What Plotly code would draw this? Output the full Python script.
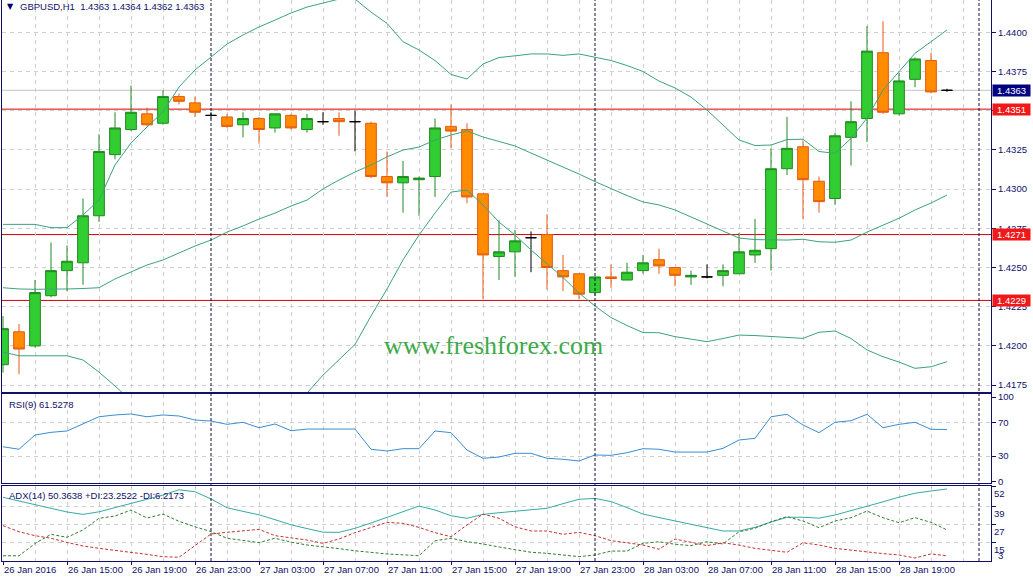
import plotly.graph_objects as go
import pandas as pd

# ---------------- data ----------------
TIMES = pd.date_range("2016-01-26 11:00", periods=60, freq="h")

OPEN = [1.4188, 1.4209, 1.4200, 1.4232, 1.4248, 1.4253, 1.4283, 1.4322, 1.4338, 1.4348,
        1.4342, 1.4359, 1.4355, 1.4347, 1.4346, 1.4341, 1.4345, 1.4339, 1.4347, 1.4338,
        1.4343, 1.4345, 1.4343, 1.4342, 1.4308, 1.4304, 1.4306, 1.4308, 1.4340, 1.4338,
        1.4297, 1.4257, 1.4260, 1.4269, 1.4271, 1.4248, 1.4246, 1.4234, 1.4244, 1.4242,
        1.4248, 1.4255, 1.4250, 1.4244, 1.4244, 1.4245, 1.4246, 1.4258, 1.4262, 1.4313,
        1.4327, 1.4305, 1.4294, 1.4333, 1.4345, 1.4387, 1.4348, 1.4370, 1.4382, 1.4363]
HIGH = [1.4219, 1.4214, 1.4242, 1.4266, 1.4264, 1.4294, 1.4335, 1.4349, 1.4366, 1.4352,
        1.4363, 1.4361, 1.4359, 1.4349, 1.4348, 1.4349, 1.4346, 1.4348, 1.4348, 1.4348,
        1.4349, 1.4349, 1.4350, 1.4343, 1.4324, 1.4318, 1.4308, 1.4345, 1.4354, 1.4342,
        1.4297, 1.4280, 1.4274, 1.4273, 1.4284, 1.4258, 1.4246, 1.4244, 1.4252, 1.4253,
        1.4258, 1.4262, 1.4250, 1.4248, 1.4252, 1.4252, 1.4272, 1.4281, 1.4326, 1.4346,
        1.4331, 1.4308, 1.4336, 1.4356, 1.4404, 1.4407, 1.4374, 1.4384, 1.4387, 1.4364]
LOW = [1.4183, 1.4182, 1.4199, 1.4231, 1.4235, 1.4239, 1.4279, 1.4319, 1.4337, 1.4340,
       1.4341, 1.4354, 1.4346, 1.4345, 1.4339, 1.4333, 1.4329, 1.4336, 1.4338, 1.4336,
       1.4341, 1.4334, 1.4324, 1.4307, 1.4295, 1.4285, 1.4283, 1.4295, 1.4326, 1.4291,
       1.4230, 1.4242, 1.4244, 1.4247, 1.4236, 1.4235, 1.4230, 1.4232, 1.4237, 1.4242,
       1.4246, 1.4246, 1.4238, 1.4239, 1.4243, 1.4238, 1.4246, 1.4253, 1.4248, 1.4309,
       1.4281, 1.4285, 1.4290, 1.4315, 1.4330, 1.4348, 1.4347, 1.4365, 1.4361, 1.4362]
CLOSE = [1.4211, 1.4198, 1.4234, 1.4248, 1.4254, 1.4283, 1.4324, 1.4339, 1.4349, 1.4341,
         1.4359, 1.4356, 1.4349, 1.4347, 1.4340, 1.4345, 1.4338, 1.4348, 1.4339, 1.4345,
         1.4343, 1.4343, 1.4343, 1.4308, 1.4304, 1.4308, 1.4307, 1.4339, 1.4337, 1.4295,
         1.4258, 1.4260, 1.4267, 1.4269, 1.4250, 1.4244, 1.4233, 1.4244, 1.4243, 1.4247,
         1.4253, 1.4251, 1.4245, 1.4245, 1.4244, 1.4248, 1.4260, 1.4261, 1.4313, 1.4326,
         1.4306, 1.4292, 1.4334, 1.4343, 1.4388, 1.4349, 1.4369, 1.4383, 1.4362, 1.4363]

BB_UPPER = [1.42775, 1.42775, 1.42775, 1.42754, 1.42754, 1.42835, 1.42930, 1.43154, 1.43294, 1.43396,
            1.43492, 1.43651, 1.43760, 1.43842, 1.43925, 1.43983, 1.44034, 1.44078, 1.44123, 1.44161,
            1.44187, 1.44212, 1.44212, 1.44129, 1.44057, 1.43940, 1.43887, 1.43820, 1.43731, 1.43702,
            1.43798, 1.43839, 1.43850, 1.43862, 1.43862, 1.43853, 1.43862, 1.43841, 1.43820, 1.43788,
            1.43750, 1.43689, 1.43645, 1.43587, 1.43504, 1.43409, 1.43313, 1.43278, 1.43281, 1.43316,
            1.43318, 1.43240, 1.43228, 1.43323, 1.43453, 1.43632, 1.43747, 1.43866, 1.43940, 1.44015]
BB_MID = [1.42371, 1.42363, 1.42361, 1.42361, 1.42363, 1.42366, 1.42371, 1.42427, 1.42473, 1.42516,
          1.42548, 1.42592, 1.42637, 1.42675, 1.42726, 1.42765, 1.42809, 1.42847, 1.42892, 1.42930,
          1.43001, 1.43058, 1.43109, 1.43154, 1.43205, 1.43249, 1.43268, 1.43313, 1.43345, 1.43371,
          1.43332, 1.43304, 1.43275, 1.43230, 1.43186, 1.43143, 1.43096, 1.43048, 1.43001, 1.42959,
          1.42918, 1.42899, 1.42867, 1.42822, 1.42782, 1.42733, 1.42688, 1.42678, 1.42675, 1.42675,
          1.42680, 1.42664, 1.42661, 1.42675, 1.42726, 1.42771, 1.42814, 1.42867, 1.42911, 1.42962]
BB_LOWER = [1.41961, 1.41937, 1.41937, 1.41937, 1.41937, 1.41910, 1.41833, 1.41744, 1.41652, 1.41636,
            1.41604, 1.41534, 1.41514, 1.41508, 1.41527, 1.41546, 1.41585, 1.41617, 1.41661, 1.41699,
            1.41814, 1.41910, 1.42009, 1.42191, 1.42363, 1.42548, 1.42707, 1.42847, 1.42981, 1.42994,
            1.42899, 1.42790, 1.42707, 1.42612, 1.42522, 1.42436, 1.42337, 1.42254, 1.42181, 1.42130,
            1.42085, 1.42084, 1.42059, 1.42044, 1.42027, 1.42047, 1.42069, 1.42066, 1.42060, 1.42053,
            1.42048, 1.42087, 1.42095, 1.42047, 1.41974, 1.41931, 1.41897, 1.41857, 1.41867, 1.41899]

RSI = [41.0, 38.0, 54.9, 58.1, 59.7, 68.6, 76.6, 78.7, 79.9, 76.6,
       78.7, 77.5, 72.7, 71.5, 67.6, 70.0, 63.6, 68.0, 60.0, 62.0,
       62.0, 62.0, 62.0, 38.0, 35.9, 38.7, 38.7, 59.7, 57.7, 37.1,
       27.3, 28.8, 33.2, 33.2, 27.3, 26.1, 24.1, 31.2, 30.8, 33.9,
       38.7, 38.0, 34.7, 34.7, 34.7, 39.1, 49.0, 51.0, 76.6, 79.5,
       66.8, 57.7, 70.0, 71.9, 79.5, 63.6, 67.6, 70.0, 61.7, 61.5]

ADX = [44.9, 42.3, 40.1, 37.6, 35.2, 33.6, 35.3, 38.0, 40.8, 43.6,
       46.4, 49.9, 48.6, 43.8, 38.0, 35.6, 33.3, 30.1, 26.7, 24.2,
       21.8, 21.7, 24.4, 27.9, 31.5, 35.4, 39.1, 36.5, 32.7, 31.0,
       33.6, 34.7, 35.8, 36.6, 37.6, 40.7, 43.6, 44.2, 42.1, 38.1,
       33.8, 31.5, 29.2, 27.1, 25.0, 22.6, 22.6, 25.0, 28.5, 31.7,
       31.7, 31.1, 33.2, 36.0, 38.7, 41.9, 45.0, 47.6, 49.1, 50.4]
PLUS_DI = [6.2, 6.2, 14.3, 20.4, 18.4, 23.3, 31.0, 32.5, 36.5, 31.2,
           33.8, 29.0, 25.4, 22.2, 17.8, 16.6, 14.9, 17.8, 15.2, 13.3,
           12.3, 10.9, 9.5, 8.4, 7.4, 6.8, 6.2, 16.1, 17.8, 15.5,
           14.0, 12.0, 10.0, 8.5, 7.8, 6.7, 5.6, 6.7, 9.3, 9.3,
           14.4, 15.5, 13.8, 12.9, 15.5, 14.0, 22.1, 24.4, 28.7, 32.1,
           29.2, 24.8, 29.2, 31.4, 35.8, 31.4, 28.1, 31.4, 28.3, 23.3]
MINUS_DI = [26.1, 22.1, 19.5, 17.8, 15.0, 12.7, 11.1, 9.9, 8.5, 7.1,
            5.6, 5.2, 12.9, 20.6, 21.7, 22.6, 23.7, 19.5, 17.8, 16.6,
            14.4, 17.3, 21.5, 25.0, 28.3, 27.7, 25.0, 21.5, 18.8, 26.6,
            33.8, 31.0, 25.4, 22.6, 22.6, 20.4, 21.7, 19.5, 16.2, 14.8,
            13.3, 10.5, 17.3, 15.1, 12.9, 14.8, 13.3, 11.1, 10.0, 8.5,
            14.8, 13.3, 11.1, 9.8, 8.5, 7.6, 6.7, 4.7, 7.4, 6.2]

H_LINES = [1.4351, 1.4271, 1.4229]
BID = 1.4363
RSI_LEVELS = [70, 30]
ADX_LEVELS = [39, 27, 15]
RSI_TICKS = [100, 70, 30, 0]
ADX_TICKS = [52, 39, 27, 15]

TICK_TIMES = ["2016-01-26 11:00", "2016-01-26 15:00", "2016-01-26 19:00", "2016-01-26 23:00",
              "2016-01-27 03:00", "2016-01-27 07:00", "2016-01-27 11:00", "2016-01-27 15:00",
              "2016-01-27 19:00", "2016-01-27 23:00", "2016-01-28 03:00", "2016-01-28 07:00",
              "2016-01-28 11:00", "2016-01-28 15:00", "2016-01-28 19:00"]
TICK_TEXT = ["26 Jan 2016", "26 Jan 15:00", "26 Jan 19:00", "26 Jan 23:00",
             "27 Jan 03:00", "27 Jan 07:00", "27 Jan 11:00", "27 Jan 15:00",
             "27 Jan 19:00", "27 Jan 23:00", "28 Jan 03:00", "28 Jan 07:00",
             "28 Jan 11:00", "28 Jan 15:00", "28 Jan 19:00"]
DAY_SEPARATORS = ["2016-01-27 00:00", "2016-01-28 00:00", "2016-01-29 00:00"]

TITLE = "GBPUSD,H1\u00a0\u00a01.4363 1.4364 1.4362 1.4363"
RSI_LABEL = "RSI(9) 61.5278"
ADX_LABEL = "ADX(14) 50.3638 +DI:23.2522 -DI:6.2173"
WATERMARK = "www.freshforex.com"

# ---------------- style ----------------
W, H = 1033, 579
ML, MR, MT, MB = 2, 42, 0, 18
PW, PH = W - ML - MR, H - MT - MB
NAVY = "#10106A"
GRID = "#CFCFCF"
GRID_DASH = "4px,4px"
FONT = "Liberation Sans"
BULL_FILL, BULL_LINE = "#32CD32", "#1E8A1E"
BEAR_FILL, BEAR_LINE = "#FF8C00", "#E65A10"
BB_COLOR = "#3DA27C"
RSI_COLOR = "#3C8CD2"
ADX_COLOR = "#35A9A9"
PDI_COLOR = "#2F7F2F"
MDI_COLOR = "#C83030"


def px_x(px):
    return (px - ML) / PW


def px_y(py):
    return 1 - (py - MT) / PH


fig = go.Figure()

n = len(TIMES)
body = [i for i in range(n) if OPEN[i] != CLOSE[i]]
cross = [i for i in range(n) if OPEN[i] == CLOSE[i]]


def pick(arr, idx):
    return [arr[i] for i in idx]


# Bollinger bands
for band in (BB_UPPER, BB_MID, BB_LOWER):
    fig.add_trace(go.Scatter(x=TIMES, y=band, mode="lines", line=dict(color=BB_COLOR, width=1),
                             hoverinfo="skip", xaxis="x", yaxis="y"))

fig.add_trace(go.Candlestick(
    x=pick(TIMES, body), open=pick(OPEN, body), high=pick(HIGH, body),
    low=pick(LOW, body), close=pick(CLOSE, body),
    increasing=dict(fillcolor=BULL_FILL, line=dict(color=BULL_LINE, width=1)),
    decreasing=dict(fillcolor=BEAR_FILL, line=dict(color=BEAR_LINE, width=1)),
    whiskerwidth=0, hoverinfo="skip", xaxis="x", yaxis="y"))
fig.add_trace(go.Candlestick(
    x=pick(TIMES, cross), open=pick(OPEN, cross), high=pick(HIGH, cross),
    low=pick(LOW, cross), close=pick(CLOSE, cross),
    increasing=dict(fillcolor="black", line=dict(color="black", width=1)),
    decreasing=dict(fillcolor="black", line=dict(color="black", width=1)),
    whiskerwidth=0, hoverinfo="skip", xaxis="x", yaxis="y"))

# RSI
fig.add_trace(go.Scatter(x=TIMES, y=RSI, mode="lines", line=dict(color=RSI_COLOR, width=1),
                         hoverinfo="skip", xaxis="x2", yaxis="y2"))
# ADX
fig.add_trace(go.Scatter(x=TIMES, y=ADX, mode="lines", line=dict(color=ADX_COLOR, width=1),
                         hoverinfo="skip", xaxis="x3", yaxis="y3"))
fig.add_trace(go.Scatter(x=TIMES, y=PLUS_DI, mode="lines",
                         line=dict(color=PDI_COLOR, width=1, dash="3px,2px"),
                         hoverinfo="skip", xaxis="x3", yaxis="y3"))
fig.add_trace(go.Scatter(x=TIMES, y=MINUS_DI, mode="lines",
                         line=dict(color=MDI_COLOR, width=1, dash="3px,2px"),
                         hoverinfo="skip", xaxis="x3", yaxis="y3"))

shapes = []
shapes.append(dict(type="line", xref="x domain", x0=0, x1=1, yref="y", y0=BID, y1=BID,
                   line=dict(color="#C4C4C4", width=1), layer="below"))
for lvl in H_LINES:
    shapes.append(dict(type="line", xref="x domain", x0=0, x1=1, yref="y", y0=lvl, y1=lvl,
                       line=dict(color="#D80000", width=1), layer="below"))
for d in DAY_SEPARATORS:
    shapes.append(dict(type="line", xref="x", x0=d, x1=d, yref="paper", y0=0, y1=1,
                       line=dict(color="#111133", width=1, dash="3px,2px"), layer="above"))

annotations = []


def text_at(txt, px, py, size=9, color=NAVY, family=FONT, xanchor="left"):
    annotations.append(dict(text=txt, xref="paper", yref="paper", x=px_x(px), y=px_y(py),
                            xanchor=xanchor, yanchor="middle", showarrow=False,
                            font=dict(size=size, color=color, family=family)))


text_at("\u25BC", 5, 7, size=8, color="#000060", family="DejaVu Sans")
text_at(TITLE, 18, 7, size=9.5)
text_at(RSI_LABEL, 7, 404, size=9.5)
text_at(ADX_LABEL, 7, 495, size=9.5)
text_at(WATERMARK, 493, 346, size=26, color="#3DAA4A", family="Liberation Serif", xanchor="center")
text_at("3", 996, 555, size=9.5)


def price_box(val, bg):
    annotations.append(dict(text="%.4f" % val, xref="paper", x=1, xanchor="left", xshift=1,
                            yref="y", y=val, yanchor="middle", showarrow=False,
                            bgcolor=bg, borderpad=0, width=37, height=11, align="center",
                            font=dict(size=9.5, color="white", family=FONT)))


price_box(BID, "#000080")
for lvl in H_LINES:
    price_box(lvl, "#F01818")

axis_common = dict(showline=True, mirror=True, linecolor=NAVY, linewidth=1, zeroline=False,
                   gridcolor=GRID, griddash=GRID_DASH, gridwidth=1)
x_common = dict(axis_common, type="date", tickvals=TICK_TIMES, ticktext=TICK_TEXT, showgrid=True,
                minor=dict(dtick=2 * 3600 * 1000, tick0="2016-01-26 11:00", showgrid=True,
                           gridcolor=GRID, griddash=GRID_DASH, gridwidth=1))
y_common = dict(axis_common, side="right", ticks="outside", ticklen=4, tickcolor=NAVY,
                tickfont=dict(size=9.5, color=NAVY, family=FONT), automargin=False)

MAIN_DOM = [px_y(392), 1]
RSI_DOM = [px_y(483.3), px_y(394)]
ADX_DOM = [0, px_y(486)]

fig.update_layout(
    width=W, height=H, margin=dict(l=ML, r=MR, t=MT, b=MB),
    paper_bgcolor="white", plot_bgcolor="white", showlegend=False,
    boxgap=0.33, boxgroupgap=0,
    xaxis=dict(x_common, anchor="y", showticklabels=False, ticks="",
               range=["2016-01-26 10:56:15", "2016-01-29 00:45"],
               rangeslider=dict(visible=False)),
    xaxis2=dict(x_common, anchor="y2", matches="x", showticklabels=False, ticks=""),
    xaxis3=dict(x_common, anchor="y3", matches="x", ticks="outside", ticklen=3, tickcolor=NAVY,
                ticklabelposition="outside right",
                tickfont=dict(size=9.5, color=NAVY, family=FONT)),
    yaxis=dict(y_common, anchor="x", domain=MAIN_DOM, range=[1.41706, 1.44206],
               tick0=1.4175, dtick=0.0025, tickformat=".4f", showgrid=True),
    yaxis2=dict(y_common, anchor="x2", domain=RSI_DOM, range=[-2.4, 103.6],
                tickvals=RSI_TICKS, showgrid=False,
                minor=dict(tickvals=RSI_LEVELS, showgrid=True, gridcolor=GRID,
                           griddash=GRID_DASH, ticks="")),
    yaxis3=dict(y_common, anchor="x3", domain=ADX_DOM, range=[2.72, 52.4],
                tickvals=ADX_TICKS, ticklabelposition="outside bottom", showgrid=False,
                minor=dict(tickvals=ADX_LEVELS, showgrid=True, gridcolor=GRID,
                           griddash=GRID_DASH, ticks="")),
    shapes=shapes, annotations=annotations,
)

fig.write_html("out.html", config={"displayModeBar": False},
               post_script="document.body.style.margin='0';document.body.style.overflow='hidden';")
